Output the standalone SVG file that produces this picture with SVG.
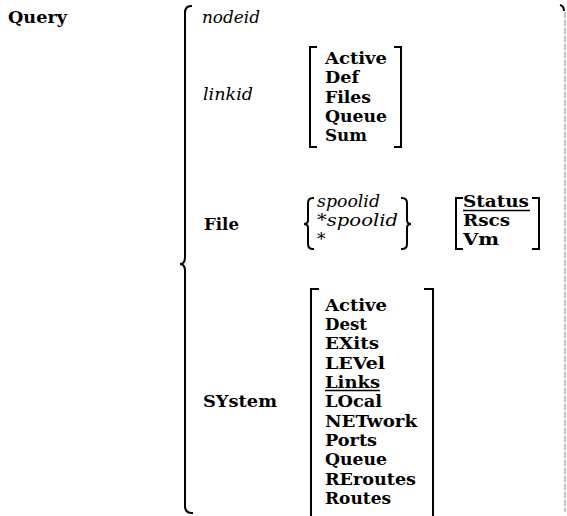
<svg xmlns="http://www.w3.org/2000/svg" width="567" height="516" viewBox="0 0 567 516">
  <style>
    .b { font-family: "DejaVu Serif", "Liberation Serif", serif; font-weight: bold; font-size: 17.5px; fill: #000; }
    .i { font-family: "DejaVu Serif", "Liberation Serif", serif; font-style: italic; font-size: 17px; fill: #000; }
    .br { fill: none; stroke: #000; stroke-width: 2; stroke-linecap: square; stroke-linejoin: miter; }
    .ul { stroke: #000; stroke-width: 1.5; }
  </style>
  <rect width="567" height="516" fill="#fff"/>

  <!-- command name -->
  <g id="query">
    <text class="b" x="8" y="23" textLength="59" lengthAdjust="spacingAndGlyphs">Query</text>
  </g>

  <!-- grouping marks -->
  <g id="brackets">
    <!-- main brace enclosing all operands -->
    <path class="br" d="M191,6 Q185,6 185,13 L185,257 Q185,264 180,264 Q185,264 185,271 L185,506 Q185,513 192,513"/>
    <!-- faint closing rule at the right edge -->
    <path d="M560,5 Q564,6 564,11" fill="none" stroke="#000" stroke-width="2"/>
    <line x1="565" y1="12" x2="565" y2="512" stroke="#9a9a9a" stroke-width="1.2" stroke-dasharray="6 2"/>
    <!-- linkid options -->
    <path class="br" d="M316,47 H310 V147 H316"/>
    <path class="br" d="M395,47 H401 V147 H395"/>
    <!-- spoolid choice -->
    <path class="br" d="M313,198 Q308,198 308,203 L308,220 Q308,224 304,224 Q308,224 308,228 L308,244 Q308,249 313,249"/>
    <path class="br" d="M402,198 Q407,198 407,203 L407,220 Q407,224 411,224 Q407,224 407,228 L407,244 Q407,249 402,249"/>
    <!-- file display options -->
    <path class="br" d="M462,198 H456 V249 H462"/>
    <path class="br" d="M533,198 H539 V249 H533"/>
    <!-- system options -->
    <path class="br" d="M318,289 H311 V516"/>
    <path class="br" d="M425,289 H433 V516"/>
  </g>

  <g id="nodeid">
    <text class="i" x="202" y="23" textLength="58" lengthAdjust="spacingAndGlyphs">nodeid</text>
  </g>

  <g id="linkid">
    <text class="i" x="203" y="100" textLength="50" lengthAdjust="spacingAndGlyphs">linkid</text>
    <text class="b" x="325" y="64" textLength="62" lengthAdjust="spacingAndGlyphs">Active</text>
    <text class="b" x="325" y="83.3" textLength="34" lengthAdjust="spacingAndGlyphs">Def</text>
    <text class="b" x="325" y="102.7" textLength="46" lengthAdjust="spacingAndGlyphs">Files</text>
    <text class="b" x="325" y="122" textLength="62" lengthAdjust="spacingAndGlyphs">Queue</text>
    <text class="b" x="325" y="141.3" textLength="42" lengthAdjust="spacingAndGlyphs">Sum</text>
  </g>

  <g id="file">
    <text class="b" x="204" y="230" textLength="35" lengthAdjust="spacingAndGlyphs">File</text>
    <text class="i" x="317" y="207" textLength="63" lengthAdjust="spacingAndGlyphs">spoolid</text>
    <text class="i" x="317" y="226" textLength="81" lengthAdjust="spacingAndGlyphs">*spoolid</text>
    <text class="i" x="317" y="245">*</text>
    <text class="b" x="463" y="207" textLength="66" lengthAdjust="spacingAndGlyphs">Status</text>
    <line class="ul" x1="463" y1="210.5" x2="530" y2="210.5"/>
    <text class="b" x="463" y="226" textLength="47" lengthAdjust="spacingAndGlyphs">Rscs</text>
    <text class="b" x="463" y="245" textLength="36" lengthAdjust="spacingAndGlyphs">Vm</text>
  </g>

  <g id="system">
    <text class="b" x="203" y="407" textLength="74" lengthAdjust="spacingAndGlyphs">SYstem</text>
    <text class="b" x="325" y="310.7" textLength="62" lengthAdjust="spacingAndGlyphs">Active</text>
    <text class="b" x="325" y="330" textLength="42" lengthAdjust="spacingAndGlyphs">Dest</text>
    <text class="b" x="325" y="349.3" textLength="54" lengthAdjust="spacingAndGlyphs">EXits</text>
    <text class="b" x="325" y="368.7" textLength="60" lengthAdjust="spacingAndGlyphs">LEVel</text>
    <text class="b" x="325" y="388" textLength="55" lengthAdjust="spacingAndGlyphs">Links</text>
    <line class="ul" x1="325" y1="390.5" x2="380" y2="390.5"/>
    <text class="b" x="325" y="407.3" textLength="57" lengthAdjust="spacingAndGlyphs">LOcal</text>
    <text class="b" x="325" y="426.7" textLength="92" lengthAdjust="spacingAndGlyphs">NETwork</text>
    <text class="b" x="325" y="446" textLength="52" lengthAdjust="spacingAndGlyphs">Ports</text>
    <text class="b" x="325" y="465.3" textLength="62" lengthAdjust="spacingAndGlyphs">Queue</text>
    <text class="b" x="325" y="484.7" textLength="91" lengthAdjust="spacingAndGlyphs">REroutes</text>
    <text class="b" x="325" y="504" textLength="66" lengthAdjust="spacingAndGlyphs">Routes</text>
  </g>
</svg>
